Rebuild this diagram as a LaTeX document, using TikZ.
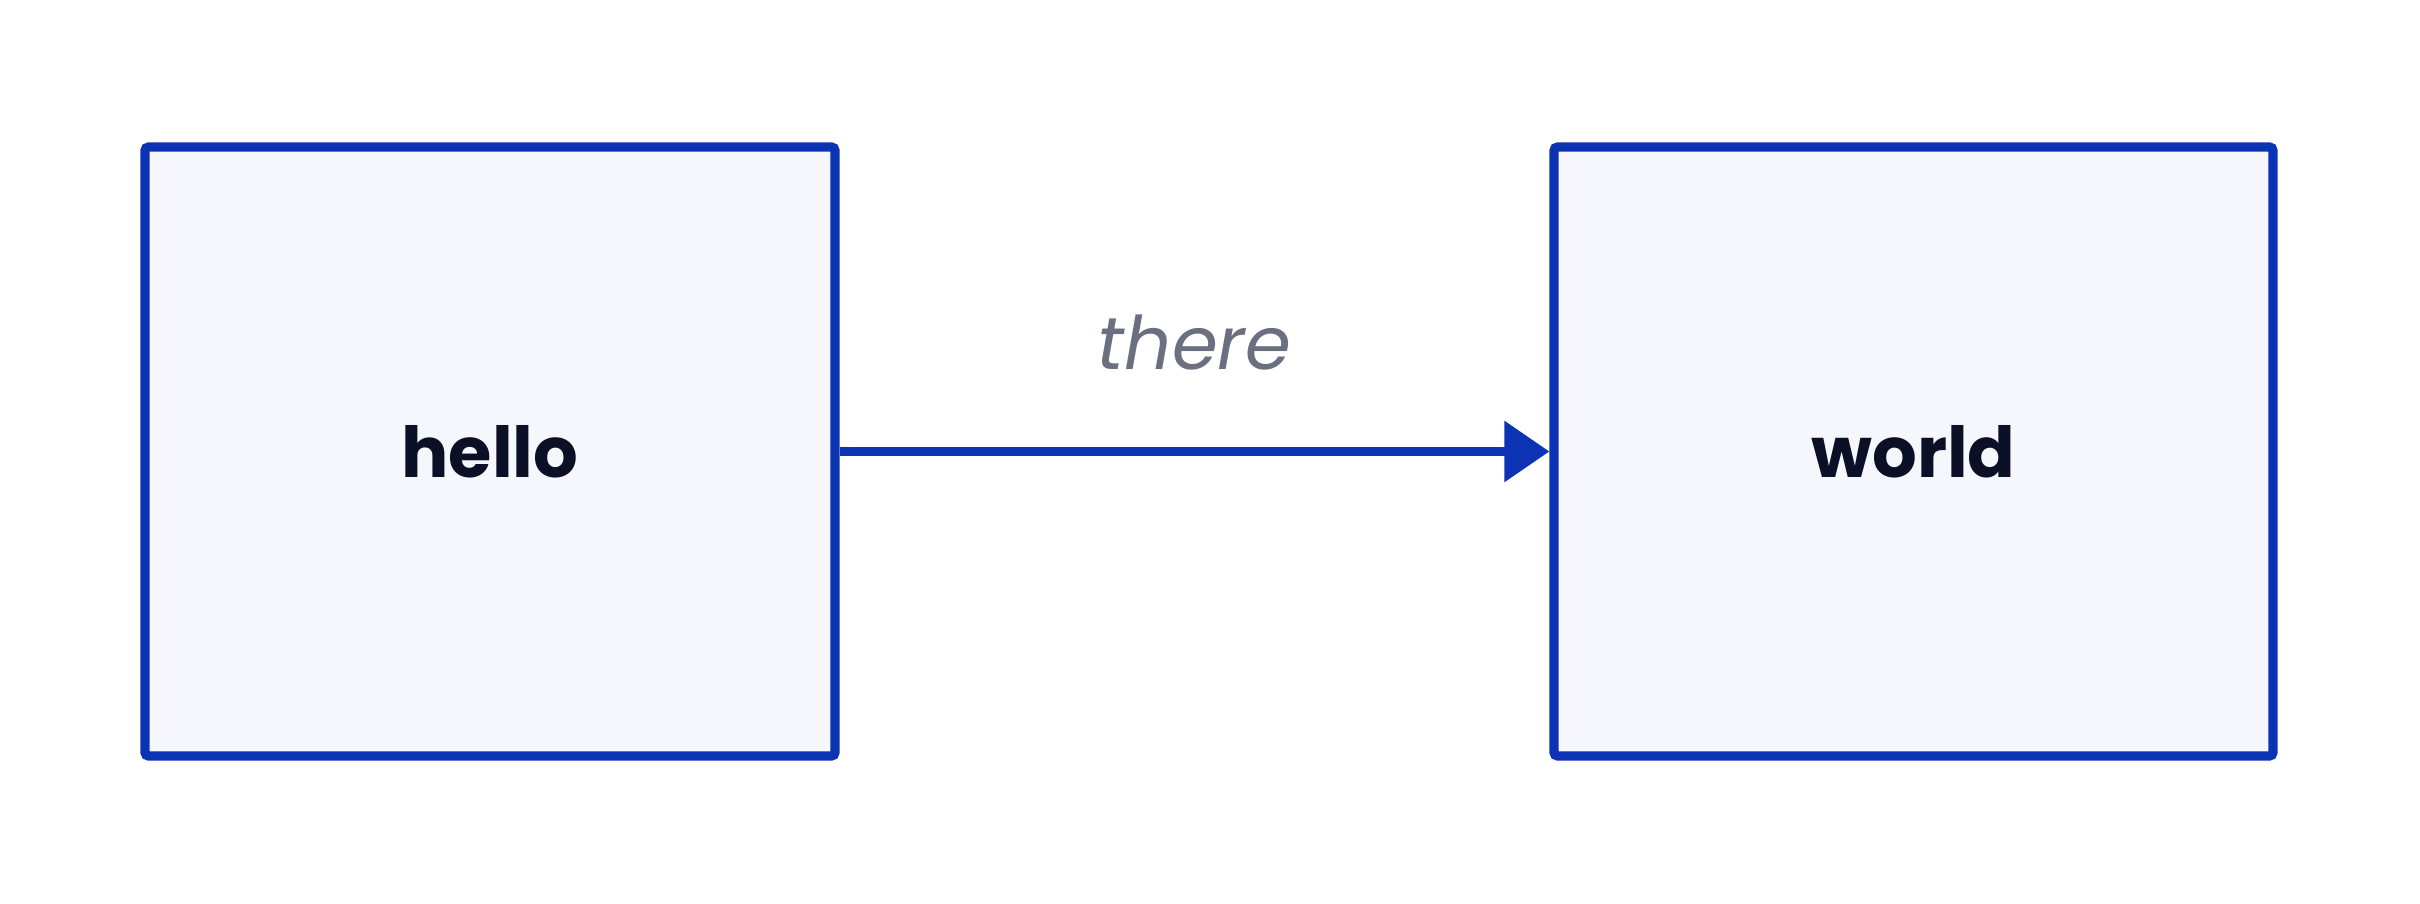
\documentclass[tikz,border=0pt]{standalone}
\usepackage{fontspec}
\setmainfont{Poppins}
\usetikzlibrary{positioning,arrows.meta}
\definecolor{hwblue}{HTML}{0D33B5}
\definecolor{hwfill}{HTML}{F5F7FC}
\definecolor{hwink}{HTML}{0B1026}
\definecolor{hwgray}{HTML}{6B6F80}
\tikzset{
  wbox/.style={draw=hwblue, fill=hwfill, line width=2.6pt, rounded corners=1pt,
    align=center, minimum height=6.09cm, font=\fontsize{20}{24}\selectfont\bfseries,
    text=hwink, inner sep=0pt},
  flow/.style={-{Triangle[length=4.5mm, width=5.9mm]}, line width=2.6pt, draw=hwblue},
  flab/.style={font=\fontsize{21}{25}\selectfont\itshape, text=hwgray},
}
\begin{document}
\begin{tikzpicture}
    \useasboundingbox (0,0) rectangle (24.2,9.03);
    % boxes
    \node[wbox, minimum width=6.90cm] (hello) at (4.90,4.515) {hello};
    \node[wbox, minimum width=7.19cm] (world) at (19.135,4.515) {world};
    % link
    \draw[flow] (hello) -- node[flab, above=0.65cm] {there} (world);
  \end{tikzpicture}
\end{document}
